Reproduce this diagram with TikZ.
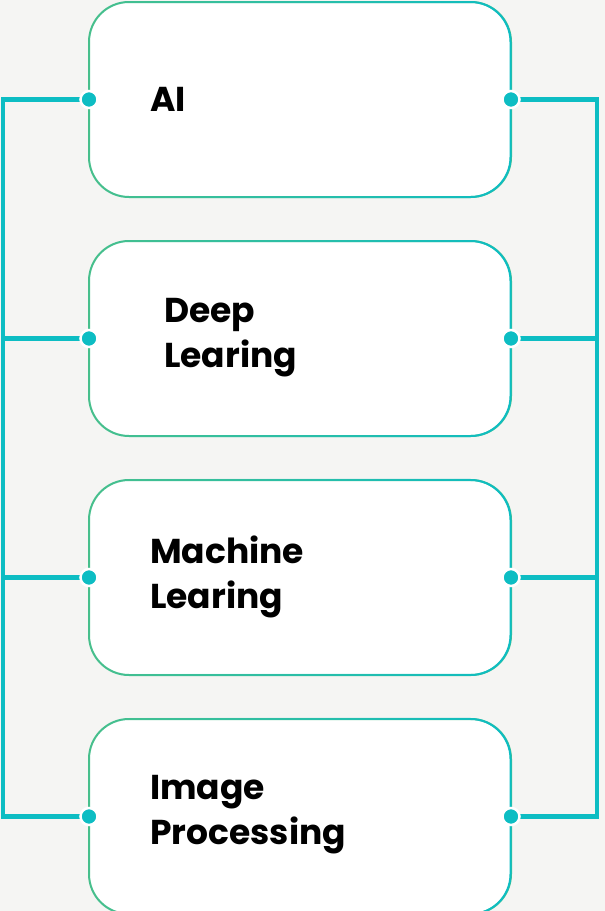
\documentclass[tikz,border=0pt]{standalone}
\usepackage{fontspec}
\setmainfont{Poppins}
\usetikzlibrary{fadings}
\definecolor{teal1}{HTML}{0DBDC3}
\definecolor{green1}{HTML}{48C08C}
\definecolor{bgc}{HTML}{F5F5F3}
\tikzfading[name=fadeleft, left color=transparent!100, right color=transparent!0]
\begin{document}
\begin{tikzpicture}[x=1pt,y=-1pt,
 box/.style={minimum width=422pt, minimum height=195pt, rounded corners=40pt, fill=white, draw=green1, line width=2pt, inner sep=0pt, outer sep=0pt},
 boxedge/.style={teal1, line width=2pt, path fading=fadeleft, rounded corners=40pt},
 lbl/.style={anchor=north west, align=left, inner sep=0pt, font=\fontsize{34.5}{45}\selectfont\bfseries},
 dot/.style={circle, fill=teal1, draw=white, line width=2.5pt, minimum size=17pt, inner sep=0pt},
 conn/.style={teal1, line width=4.5pt}]
\fill[bgc] (0,0) rectangle (605,911);
\useasboundingbox (0,0) rectangle (605,911);
\coordinate (LX) at (3,0);
\coordinate (RX) at (597,0);
\node[box] (b1) at (300,99.5) {};
\node[box] (b2) at (300,338.5) {};
\node[box] (b3) at (300,577.5) {};
\node[box] (b4) at (300,816.5) {};
\foreach \b in {b1,b2,b3,b4}{
  \draw[boxedge] (\b.north west) rectangle (\b.south east);
}
% connectors
\draw[conn] (b1.west) -- (LX |- b1.west) -- (LX |- b4.west) -- (b4.west);
\draw[conn] (b2.west) -- (LX |- b2.west);
\draw[conn] (b3.west) -- (LX |- b3.west);
\draw[conn] (b1.east) -- (RX |- b1.east) -- (RX |- b4.east) -- (b4.east);
\draw[conn] (b2.east) -- (RX |- b2.east);
\draw[conn] (b3.east) -- (RX |- b3.east);
\foreach \b in {b1,b2,b3,b4}{
  \node[dot] (\b l) at (\b.west) {};
  \node[dot] (\b r) at (\b.east) {};
}
\node[lbl] (t1) at (150,87) {AI};
\node[lbl] (t2) at (164,298) {Deep\\Learing};
\node[lbl] (t3) at (150,536) {Machine\\Learing};
\node[lbl] (t4) at (150,775) {Image\\Processing};
\end{tikzpicture}
\end{document}
